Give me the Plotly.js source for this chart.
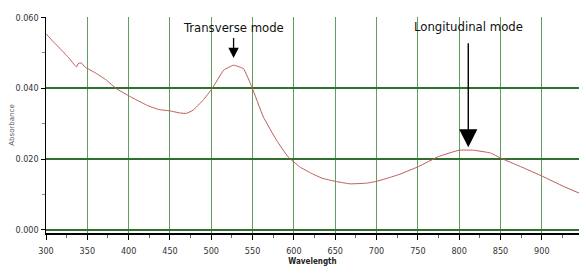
<!DOCTYPE html>
<html><head><meta charset="utf-8">
<script src="https://cdn.plot.ly/plotly-3.0.1.min.js"></script>
<style>html,body{margin:0;padding:0;background:#fff}#chart{width:579px;height:266px}</style>
</head><body><div id="chart"></div>
<script>
const wavelength = [300,308,317,327,337,339,343,347,360,373,385,402,422,436,450,462,470,478,490,501,515,527,539,549,563,579,593,607,620,634,650,668,688,700,716,728,751,775,800,817,838,850,874,901,926,945];
const absorbance = [0.0554,0.0533,0.0512,0.0487,0.0460,0.0470,0.0471,0.0460,0.0443,0.0423,0.0399,0.0376,0.0352,0.0340,0.0336,0.0330,0.0329,0.0338,0.0366,0.0399,0.0451,0.0465,0.0455,0.0404,0.0319,0.0253,0.0206,0.0178,0.0161,0.0146,0.0137,0.0130,0.0132,0.0137,0.0148,0.0157,0.0179,0.0207,0.0225,0.0225,0.0217,0.0203,0.0179,0.0151,0.0123,0.0104];
const yTicks = [0, 0.02, 0.04, 0.06];
const yTickText = ["0.000","0.020","0.040","0.060"];
const xTicks = [300,350,400,450,500,550,600,650,700,750,800,850,900,950];
const xTickText = ["300","350","400","450","500","550","600","650","700","750","800","850","900","950"];
const annText = ["Transverse mode","Longitudinal mode"];
const annX = [527, 811];
const annY = [0.0485, 0.0233];

const narrow = '"Liberation Sans Narrow", "DejaVu Sans Condensed", sans-serif';

Plotly.newPlot('chart', [{
  x: wavelength, y: absorbance, type: 'scatter', mode: 'lines',
  line: {color: '#bf5a5a', width: 1, shape: 'spline', smoothing: 0.3},
  hoverinfo: 'skip'
}], {
  width: 579, height: 266,
  margin: {l: 46, r: 0, t: 17, b: 33},
  paper_bgcolor: '#fff', plot_bgcolor: '#fff',
  showlegend: false,
  xaxis: {
    range: [300, 945], tickvals: xTicks, ticktext: xTickText,
    showgrid: true, gridcolor: '#5e9e5e', gridwidth: 1,
    showline: true, linecolor: '#000', linewidth: 1.5,
    ticks: 'outside', ticklen: 5, tickcolor: '#000',
    minor: {dtick: 25, tick0: 300, ticks: 'outside', ticklen: 3, tickcolor: '#666', showgrid: false},
    zeroline: false, ticklabelstandoff: 4,
    tickfont: {family: narrow, size: 9, color: '#333'},
    title: {text: '<b>Wavelength</b>', font: {family: 'DejaVu Sans Condensed, sans-serif', size: 8, color: '#222'}, standoff: 6}
  },
  yaxis: {
    range: [-0.00088, 0.0601], tickvals: yTicks, ticktext: yTickText,
    showgrid: true, gridcolor: '#2f6f2f', gridwidth: 1.5,
    showline: true, linecolor: '#000', linewidth: 1.5,
    ticks: 'outside', ticklen: 4, tickcolor: '#000',
    minor: {dtick: 0.01, tick0: 0, ticks: 'outside', ticklen: 3, tickcolor: '#888', showgrid: false},
    zeroline: false,
    tickfont: {family: narrow, size: 9, color: '#333'},
    title: {text: 'Absorbance', font: {family: 'DejaVu Sans, sans-serif', size: 7, color: '#555'}, standoff: 0}
  },
  annotations: [
    {x: annX[0], y: annY[0], xref: 'x', yref: 'y', text: annText[0], showarrow: true,
     ax: 0, ay: -31, arrowhead: 2, arrowsize: 1.6, arrowwidth: 1.3, arrowcolor: '#000', startstandoff: 2,
     font: {family: narrow, size: 13, color: '#111'}},
    {x: annX[1], y: annY[1], xref: 'x', yref: 'y', text: annText[1], showarrow: true,
     ax: 0, ay: -121, arrowhead: 2, arrowsize: 2.6, arrowwidth: 1.4, arrowcolor: '#000', startstandoff: 8,
     font: {family: narrow, size: 13, color: '#111'}}
  ]
}, {displayModeBar: false, staticPlot: true});
</script></body></html>
